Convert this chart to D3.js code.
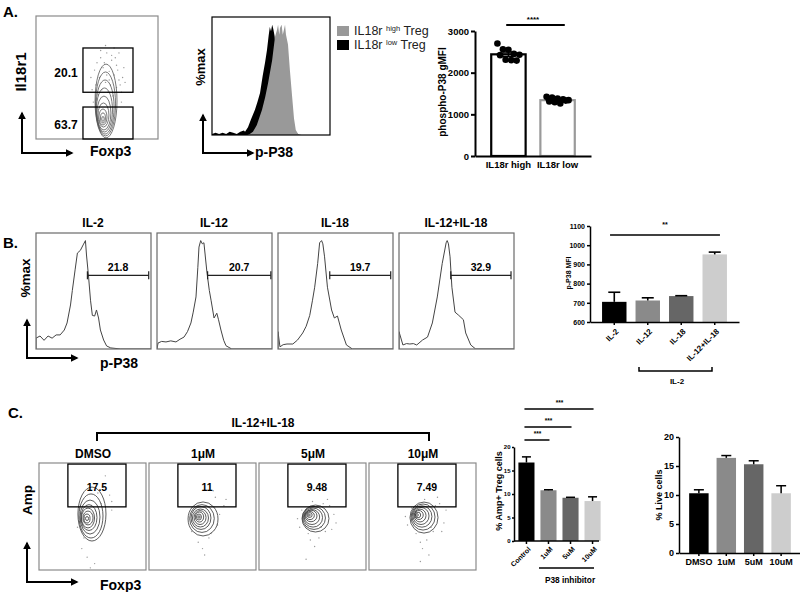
<!DOCTYPE html>
<html><head><meta charset="utf-8">
<script src="https://cdn.jsdelivr.net/npm/d3@7"></script>
<style>body{margin:0;background:#fff}svg{display:block}</style>
</head><body><svg id="chart" width="800" height="592"></svg>
<script>
// ---------------- DATA ----------------
// Panel A – bar chart
const aCategories = ["IL18r high", "IL18r low"];
const aMeans = [2440, 1340];
const aSem = [55, 25];
const aDotsHigh = [2700, 2560, 2550, 2450, 2430, 2420, 2310, 2300, 2290];
const aDotsLow = [1420, 1400, 1380, 1360, 1340, 1310, 1290, 1260, 1330];
const aTicks = [0, 1000, 2000, 3000];
// Panel A – histogram (channel %, %max)
const aHistLow = [[0,1],[3,2],[6,1],[9,2],[12,1],[15,3],[18,2],[21,1],[24,3],[27,4],[28,3],[30.5,7],[33,14],[36.4,23],[38.5,30],[40.7,38],[43,54],[45,66],[46.6,77],[48,90],[49,98],[50,94],[51,100],[52,96],[53,90],[55,70],[58,45],[62,25],[66,10],[70,3],[74,0],[100,0]];
const aHistHigh = [[0,0],[30,0],[32,1],[34.7,3],[38,9],[42.4,23],[45,34],[47.5,47],[51,68],[53.4,89],[55,95],[56,100],[57,91],[57.6,97],[59,100],[60,91],[61.9,100],[62.7,91],[64.4,82],[66,59],[67.8,36],[69.5,15],[71,4.5],[73,1],[76,0],[100,0]];
const aLegend = ["IL18r ", "high", " Treg", "low"];
// Panel A – contour plot (cx, cy, rx, ry in channel %)
const aContours = [[57.4,30.9,9,30],[57,28.5,8.2,26],[56.6,26,7.4,22],[56.1,23.6,6.6,17.9],[55.7,21.1,5.7,13.8],[55.3,19.5,4.5,9.8],[54.9,17.9,3.3,6.5],[54.9,17.1,2,4.1],[54.9,16.3,1,2]];
const aScatter = [[50,62],[53,66],[58,70],[62,64],[66,60],[60,55],[55,58],[64,52],[68,48],[52,50],[57,46],[61,44],[66,42],[70,38],[49,44],[54,40],[59,38],[63,35],[67,56],[71,50],[56,62],[62,68],[48,56],[65,66],[58,52],[51,36],[69,44],[60,48],[53,72],[46,40],[72,58],[64,74],[57,76],[70,30],[47,30],[73,46],[45,50],[68,70]];
const aGateHigh = [38.5, 38, 79.5, 74];
const aGateLow = [38.5, 0, 79.5, 26];
const aGatePct = ["20.1", "63.7"];

// Panel B – histograms
const bTitles = ["IL-2", "IL-12", "IL-18", "IL-12+IL-18"];
const bHists = [
  [[0,0],[0,10],[3.5,12],[7,8],[10.5,12],[14,10],[17.5,13],[21,13],[24.6,17.5],[27,24],[30,40.6],[31.6,54],[34,73],[36,88.5],[38.6,91],[41,96],[43,100],[43.9,86.7],[45.6,68],[47.4,45],[49,31],[51,30.4],[52.6,36],[54.4,28.6],[56,17.5],[58.8,8.3],[61.4,2.8],[65,1],[73.7,0],[100,0]],
  [[0,0],[0.9,5.5],[4,7],[7.8,6.5],[12,7.5],[16.5,6.5],[20,9],[23.5,11],[26.5,16],[29.5,24],[31.5,34],[33.9,48],[35.5,75],[36.5,94],[38,100],[39.4,97],[40.8,98],[43.5,70],[45.5,54],[47,45],[49.6,28.6],[52,33],[53.5,27],[55.6,17.5],[58,8],[60,3],[65,0],[100,0]],
  [[0,0],[0,16],[1.7,2],[4.5,4],[7.8,4.6],[12.9,4.6],[17,8.3],[21.5,14.8],[24.5,21],[27.6,31],[30,45],[31.9,57],[34.5,79],[36.2,98],[37.9,100],[39,97],[40.5,85],[43,57],[46.6,36],[49,28.6],[51.7,30.4],[55,17.5],[59.5,3.7],[64.7,0],[100,0]],
  [[0,0],[0,16],[3.4,3.7],[6.5,5],[9.4,4.6],[12.5,5],[15.4,3.7],[20.5,8.3],[24.8,11],[29,24],[33.3,48],[37.6,79],[41,98],[41.9,100],[43,97],[44.4,85],[46,57],[48.7,34],[52,31],[56,27],[58,14.8],[62.4,3.7],[66.7,0],[100,0]]
];
const bGateStart = [44.7, 44, 45, 45];
const bGateEnd = [98, 99, 98, 97.4];
const bGatePct = ["21.8", "20.7", "19.7", "32.9"];
// Panel B – bar chart
const bCategories = ["IL-2", "IL-12", "IL-18", "IL-12+IL-18"];
const bValues = [705, 712, 735, 952];
const bErrors = [50, 14, 2, 12];
const bTicks = [600, 700, 800, 900, 1000, 1100];

// Panel C – contour plots
const cTitles = ["DMSO", "1\u03bcM", "5\u03bcM", "10\u03bcM"];
const cGatePct = ["17.5", "11", "9.48", "7.49"];
const cGate = [27, 59, 81.3, 99];
const cContours = [
  [[49.5,52.3,13.1,25.2],[48.6,50.5,11.2,20.6],[47.7,49.5,9.3,15.9],[46.7,49,7.5,12.1],[45.8,48.6,6.1,9.3],[45.8,48.6,4.7,6.5],[44.9,48.1,2.8,4.2],[44.9,48.1,1.4,1.9]],
  [[50.5,47.7,14,15.9],[49.5,48.1,11.5,13],[48.6,48.6,9.3,10.7],[48.1,48.6,7.5,8.4],[47.7,49,5.6,6.5],[47.2,49.5,3.9,4.7],[46.7,49.5,2.3,2.8],[46.7,49.5,1,1.2]],
  [[52.8,48.1,12.6,12.6],[51.4,48.6,10.7,10.7],[50.5,49,8.9,8.9],[49.5,49.5,7.2,7],[48.6,50.5,5.6,5.4],[47.7,50.9,4,3.8],[47.2,51.4,2.5,2.3],[46.7,51.4,1.2,1]],
  [[51.4,49,13.1,14.5],[50.5,49.5,11.2,12.2],[49.5,50,9.3,10],[48.6,50.5,7.5,8],[47.7,50.9,5.6,6],[46.7,51.4,4,4.2],[45.8,51.4,2.5,2.6],[44.9,51.4,1.2,1.2]]
];
const cScatter = [
  [[60,78],[66,70],[58,62],[68,56],[40,20],[45,12],[52,6],[42,30],[36,40],[68,64],[62,88],[48,2],[55,72],[38,58]],
  [[62,68],[70,60],[66,52],[58,34],[50,20],[46,26],[56,30],[64,42],[52,14],[40,36],[72,66],[60,74]],
  [[66,60],[70,52],[62,36],[56,30],[48,28],[40,56],[36,48],[64,66],[52,22],[44,10],[58,40],[72,44],[50,64],[68,38],[38,40],[60,62],[46,34]],
  [[66,62],[72,56],[60,36],[54,28],[48,26],[40,58],[34,50],[64,68],[50,20],[48,8],[58,40],[70,44],[52,66],[68,36],[36,42],[62,60],[44,34],[56,14]]
];
// Panel C – bar charts
const c1Categories = ["Control", "1uM", "5uM", "10uM"];
const c1Values = [16.7, 10.8, 9.2, 8.5];
const c1Errors = [1.2, 0.1, 0.1, 0.9];
const c2Categories = ["DMSO", "1uM", "5uM", "10uM"];
const c2Values = [10.3, 16.4, 15.3, 10.3];
const c2Errors = [0.6, 0.4, 0.6, 1.3];
const cTicks = [0, 5, 10, 15, 20];

// ---------------- STYLE ----------------
const FONT = '"Liberation Sans", Arial, Helvetica, sans-serif';
const barColors = ["#000000", "#8a8a8a", "#666666", "#cdcdcd"];
const fmt = d3.format("d");

const svg = d3.select("#chart").attr("font-family", FONT);
const defs = svg.append("defs");
defs.append("marker").attr("id", "ah").attr("viewBox", "0 0 10 10")
  .attr("refX", 8).attr("refY", 5).attr("markerWidth", 4).attr("markerHeight", 4)
  .attr("orient", "auto").append("path").attr("d", "M0,0L10,5L0,10z").attr("fill", "#000");

function label(x, y, s, size, o = {}) {
  const t = svg.append("text").attr("x", x).attr("y", y).text(s)
    .attr("font-size", size).attr("font-weight", o.weight || "bold")
    .attr("fill", o.fill || "#000").attr("text-anchor", o.anchor || "start");
  if (o.rotate) t.attr("transform", `rotate(${o.rotate},${x},${y})`).attr("dominant-baseline", "central");
  return t;
}
function arrows(x0, y0, yTop, xRight) {
  svg.append("line").attr("x1", x0).attr("y1", y0 + 1).attr("x2", x0).attr("y2", yTop)
    .attr("stroke", "#000").attr("stroke-width", 2).attr("marker-end", "url(#ah)");
  svg.append("line").attr("x1", x0 - 1).attr("y1", y0).attr("x2", xRight).attr("y2", y0)
    .attr("stroke", "#000").attr("stroke-width", 2).attr("marker-end", "url(#ah)");
}
let clipN = 0;
function frame(x, y, w, h, yMax, color) {
  const xs = d3.scaleLinear([0, 100], [x, x + w]);
  const ys = d3.scaleLinear([0, yMax], [y + h, y]);
  const id = "clip" + (clipN++);
  defs.append("clipPath").attr("id", id).append("rect").attr("x", x).attr("y", y).attr("width", w).attr("height", h);
  const g = svg.append("g");
  const inner = g.append("g").attr("clip-path", `url(#${id})`);
  g.append("rect").attr("x", x).attr("y", y).attr("width", w).attr("height", h)
    .attr("fill", "none").attr("stroke", color).attr("stroke-width", 1.2);
  return { xs, ys, g, inner };
}
function drawContours(f, levels, scatter, stroke) {
  f.inner.selectAll("circle.sc").data(scatter).join("circle").attr("class", "sc")
    .attr("cx", d => f.xs(d[0])).attr("cy", d => f.ys(d[1])).attr("r", 0.7).attr("fill", "#999");
  f.inner.selectAll("ellipse").data(levels).join("ellipse")
    .attr("cx", d => f.xs(d[0])).attr("cy", d => f.ys(d[1]))
    .attr("rx", d => f.xs(d[2]) - f.xs(0)).attr("ry", d => f.ys(0) - f.ys(d[3]))
    .attr("fill", "none").attr("stroke", stroke).attr("stroke-width", 0.8);
}
function gateRect(f, gate) {
  f.g.append("rect").attr("x", f.xs(gate[0])).attr("y", f.ys(gate[3]))
    .attr("width", f.xs(gate[2]) - f.xs(gate[0])).attr("height", f.ys(gate[1]) - f.ys(gate[3]))
    .attr("fill", "none").attr("stroke", "#000").attr("stroke-width", 1.3);
}
function styleAxis(g, size, width) {
  g.attr("font-family", FONT).attr("font-size", size).attr("font-weight", "bold").attr("fill", "#000");
  g.selectAll("text").attr("fill", "#000");
  g.selectAll("path,line").attr("stroke", "#000").attr("stroke-width", width);
}
function errorBars(g, x, y, cats, vals, errs, capW, width) {
  cats.forEach((c, i) => {
    const cx = x(c) + x.bandwidth() / 2;
    g.append("line").attr("x1", cx).attr("x2", cx).attr("y1", y(vals[i])).attr("y2", y(vals[i] + errs[i]))
      .attr("stroke", "#000").attr("stroke-width", width);
    g.append("line").attr("x1", cx - capW).attr("x2", cx + capW).attr("y1", y(vals[i] + errs[i])).attr("y2", y(vals[i] + errs[i]))
      .attr("stroke", "#000").attr("stroke-width", width);
  });
}

// ---------------- PANEL A ----------------
label(3, 17, "A.", 15);
const fa = frame(36, 16, 122, 123, 100, "#8a8a8a");
drawContours(fa, aContours, aScatter, "#555");
gateRect(fa, aGateHigh);
gateRect(fa, aGateLow);
label(66, 77, aGatePct[0], 12, { anchor: "middle" });
label(66, 129, aGatePct[1], 12, { anchor: "middle" });
label(20, 72, "Il18r1", 15, { anchor: "middle", rotate: -90 });
arrows(22, 153, 113, 72);
label(90, 156, "Foxp3", 14);

const fh = frame(212, 17, 118, 118, 107, "#000");
const areaA = d3.area().x(d => fh.xs(d[0])).y0(fh.ys(0)).y1(d => fh.ys(d[1]));
fh.inner.append("path").datum(aHistLow).attr("d", areaA).attr("fill", "#000");
fh.inner.append("path").datum(aHistHigh).attr("d", areaA).attr("fill", "#999");
label(200, 67, "%max", 13, { anchor: "middle", rotate: -90 });
arrows(203, 153, 115, 253);
label(255, 157, "p-P38", 14);
svg.append("rect").attr("x", 337).attr("y", 26).attr("width", 12).attr("height", 10).attr("fill", "#999");
svg.append("rect").attr("x", 337).attr("y", 40).attr("width", 12).attr("height", 10).attr("fill", "#000");
[aLegend[1], aLegend[3]].forEach((sup, i) => {
  const t = svg.append("text").attr("x", 354).attr("y", 35 + i * 14).attr("font-size", 12.5).attr("fill", "#222");
  t.append("tspan").text(aLegend[0]);
  t.append("tspan").text(sup).attr("font-size", 7.5).attr("dy", -4);
  t.append("tspan").text(aLegend[2]).attr("dy", 4);
});

const aY = d3.scaleLinear([0, 3000], [156, 31]);
const aX = d3.scaleBand(aCategories, [475, 591]).paddingInner(0.3).paddingOuter(0.33);
const gA = svg.append("g");
gA.selectAll("rect.bar").data(aCategories).join("rect").attr("class", "bar")
  .attr("x", d => aX(d)).attr("width", aX.bandwidth())
  .attr("y", (d, i) => aY(aMeans[i])).attr("height", (d, i) => aY(0) - aY(aMeans[i]))
  .attr("fill", "#fff").attr("stroke", (d, i) => i ? "#9a9a9a" : "#000").attr("stroke-width", 2.2);
[aDotsHigh, aDotsLow].forEach((dots, k) => {
  const cx = aX(aCategories[k]) + aX.bandwidth() / 2;
  gA.selectAll(null).data(dots).join("circle")
    .attr("cx", (d, i) => cx + ((i % 5) - 2) * 5.5 + (i >= 5 ? 2.7 : 0))
    .attr("cy", d => aY(d)).attr("r", 3.3).attr("fill", "#000");
});
aCategories.forEach((c, i) => {
  const cx = aX(c) + aX.bandwidth() / 2;
  gA.append("line").attr("x1", cx).attr("x2", cx).attr("y1", aY(aMeans[i] - aSem[i])).attr("y2", aY(aMeans[i] + aSem[i])).attr("stroke", "#000").attr("stroke-width", 1.5);
  [aMeans[i] - aSem[i], aMeans[i] + aSem[i], aMeans[i]].forEach((v, j) => {
    const w = j === 2 ? 12 : 6;
    gA.append("line").attr("x1", cx - w).attr("x2", cx + w).attr("y1", aY(v)).attr("y2", aY(v)).attr("stroke", "#000").attr("stroke-width", 1.5);
  });
});
const aYAxis = gA.append("g").attr("transform", "translate(475,0)")
  .call(d3.axisLeft(aY).tickValues(aTicks).tickFormat(fmt).tickSize(4).tickSizeOuter(0).tickPadding(2));
styleAxis(aYAxis, 9.5, 2);
const aXAxis = gA.append("g").attr("transform", "translate(0,156)")
  .call(d3.axisBottom(aX).tickSize(0).tickSizeOuter(0).tickPadding(5));
styleAxis(aXAxis, 9.5, 2);
label(442, 92, "phospho-P38 gMFI", 10, { anchor: "middle", rotate: -90 });
svg.append("line").attr("x1", aX(aCategories[0]) + 15).attr("x2", aX(aCategories[1]) + aX.bandwidth() - 10)
  .attr("y1", 25).attr("y2", 25).attr("stroke", "#000").attr("stroke-width", 2);
label(533, 22, "****", 8, { anchor: "middle" });

// ---------------- PANEL B ----------------
label(3, 248, "B.", 15);
const bLine = d3.line().curve(d3.curveLinear);
bTitles.forEach((t, i) => {
  const x0 = 36 + i * 121;
  const f = frame(x0, 233, 115, 116, 107, "#6a6a6a");
  f.inner.append("path").datum(bHists[i]).attr("d", bLine.x(d => f.xs(d[0])).y(d => f.ys(d[1])))
    .attr("fill", "none").attr("stroke", "#444").attr("stroke-width", 1);
  const gy = f.ys(68);
  f.g.append("line").attr("x1", f.xs(bGateStart[i])).attr("x2", f.xs(bGateEnd[i])).attr("y1", gy).attr("y2", gy).attr("stroke", "#222").attr("stroke-width", 1.2);
  [bGateStart[i], bGateEnd[i]].forEach(v => f.g.append("line").attr("x1", f.xs(v)).attr("x2", f.xs(v)).attr("y1", gy - 4).attr("y2", gy + 4).attr("stroke", "#222").attr("stroke-width", 1.2));
  label((f.xs(bGateStart[i]) + f.xs(bGateEnd[i])) / 2, gy - 4, bGatePct[i], 10.5, { anchor: "middle" });
  label(x0 + 57, 227, t, 12, { anchor: "middle" });
});
label(25, 278, "%max", 13.5, { anchor: "middle", rotate: -90 });
arrows(27, 358, 320, 77);
label(100, 368, "p-P38", 14);

const bY = d3.scaleLinear([600, 1100], [322, 226]);
const bX = d3.scaleBand(bCategories, [590, 739]).paddingInner(0.27).paddingOuter(0.36);
const gB = svg.append("g");
gB.selectAll("rect").data(bCategories).join("rect")
  .attr("x", d => bX(d)).attr("width", bX.bandwidth())
  .attr("y", (d, i) => bY(bValues[i])).attr("height", (d, i) => bY(600) - bY(bValues[i]))
  .attr("fill", (d, i) => barColors[i]);
errorBars(gB, bX, bY, bCategories, bValues, bErrors, 6, 1.6);
const bYAxis = gB.append("g").attr("transform", "translate(590,0)")
  .call(d3.axisLeft(bY).tickValues(bTicks).tickFormat(fmt).tickSize(3).tickSizeOuter(0).tickPadding(2));
styleAxis(bYAxis, 7, 1.5);
const bXAxis = gB.append("g").attr("transform", "translate(0,322)")
  .call(d3.axisBottom(bX).tickSize(3).tickSizeOuter(0));
styleAxis(bXAxis, 8, 1.5);
bXAxis.selectAll("text").attr("x", 0).attr("y", 0).attr("dy", "0.35em")
  .attr("transform", "translate(3,8) rotate(-45)").style("text-anchor", "end");
label(568, 273, "p-P38 MFI", 7, { anchor: "middle", rotate: -90 });
gB.append("line").attr("x1", bX("IL-2") + 8).attr("x2", bX("IL-12+IL-18") + bX.bandwidth() - 7).attr("y1", 235).attr("y2", 235).attr("stroke", "#000").attr("stroke-width", 1.5);
label(665, 227, "**", 7, { anchor: "middle" });
gB.append("path").attr("d", "M639,367V371H712V367").attr("fill", "none").attr("stroke", "#000").attr("stroke-width", 1.5);
label(677, 384, "IL-2", 8, { anchor: "middle" });

// ---------------- PANEL C ----------------
label(8, 418, "C.", 15);
svg.append("path").attr("d", "M97,441V433H429V441").attr("fill", "none").attr("stroke", "#000").attr("stroke-width", 2);
label(263, 427, "IL-12+IL-18", 12, { anchor: "middle" });
cTitles.forEach((t, i) => {
  const x0 = 39 + i * 110;
  const f = frame(x0, 463, 107, 107, 100, "#8a8a8a");
  drawContours(f, cContours[i], cScatter[i], "#333");
  gateRect(f, cGate);
  label((f.xs(cGate[0]) + f.xs(cGate[2])) / 2, 491, cGatePct[i], 10.5, { anchor: "middle" });
  label(x0 + 54, 458, t, 12, { anchor: "middle" });
});
label(27, 500, "Amp", 13.5, { anchor: "middle", rotate: -90 });
arrows(27, 582, 543, 77);
label(100, 590, "Foxp3", 14);

const c1Y = d3.scaleLinear([0, 20], [541, 447]);
const c1X = d3.scaleBand(c1Categories, [514, 605]).paddingInner(0.27).paddingOuter(0.2);
const gC1 = svg.append("g");
gC1.selectAll("rect").data(c1Categories).join("rect")
  .attr("x", d => c1X(d)).attr("width", c1X.bandwidth())
  .attr("y", (d, i) => c1Y(c1Values[i])).attr("height", (d, i) => c1Y(0) - c1Y(c1Values[i]))
  .attr("fill", (d, i) => barColors[i]);
errorBars(gC1, c1X, c1Y, c1Categories, c1Values, c1Errors, 4.5, 1.5);
const c1YAxis = gC1.append("g").attr("transform", "translate(514,0)")
  .call(d3.axisLeft(c1Y).tickValues(cTicks).tickFormat(fmt).tickSize(2).tickSizeOuter(0).tickPadding(1.5));
styleAxis(c1YAxis, 6, 1.5);
const c1XAxis = gC1.append("g").attr("transform", "translate(0,541)")
  .call(d3.axisBottom(c1X).tickSize(3).tickSizeOuter(0));
c1XAxis.select(".domain").attr("d", "M514,0H599");
styleAxis(c1XAxis, 7, 1.5);
c1XAxis.selectAll("text").attr("x", 0).attr("y", 0).attr("dy", "0.35em")
  .attr("transform", "translate(3,7) rotate(-45)").style("text-anchor", "end");
label(499, 491, "% Amp+ Treg cells", 9, { anchor: "middle", rotate: -90 });
const c1Center = c => c1X(c) + c1X.bandwidth() / 2;
[[1, 440], [2, 427], [3, 409]].forEach(([k, y]) => {
  gC1.append("line").attr("x1", c1Center("Control") - 2).attr("x2", c1Center(c1Categories[k]) + 1)
    .attr("y1", y).attr("y2", y).attr("stroke", "#000").attr("stroke-width", 1.5);
  label((c1Center("Control") + c1Center(c1Categories[k])) / 2, y - 4, "***", 6.5, { anchor: "middle" });
});
gC1.append("line").attr("x1", 539).attr("x2", 594).attr("y1", 568).attr("y2", 568).attr("stroke", "#000").attr("stroke-width", 1.5);
label(570, 583, "P38 inhibitor", 8.3, { anchor: "middle" });

const c2Y = d3.scaleLinear([0, 20], [553, 437]);
const c2X = d3.scaleBand(c2Categories, [679, 801]).paddingInner(0.29).paddingOuter(0.37);
const gC2 = svg.append("g");
gC2.selectAll("rect").data(c2Categories).join("rect")
  .attr("x", d => c2X(d)).attr("width", c2X.bandwidth())
  .attr("y", (d, i) => c2Y(c2Values[i])).attr("height", (d, i) => c2Y(0) - c2Y(c2Values[i]))
  .attr("fill", (d, i) => barColors[i]);
errorBars(gC2, c2X, c2Y, c2Categories, c2Values, c2Errors, 5, 1.5);
const c2YAxis = gC2.append("g").attr("transform", "translate(679,0)")
  .call(d3.axisLeft(c2Y).tickValues(cTicks).tickFormat(fmt).tickSize(3).tickSizeOuter(0).tickPadding(2));
styleAxis(c2YAxis, 9, 1.5);
const c2XAxis = gC2.append("g").attr("transform", "translate(0,553)")
  .call(d3.axisBottom(c2X).tickSize(3).tickSizeOuter(0).tickPadding(3));
styleAxis(c2XAxis, 9, 1.5);
label(659, 495, "% Live cells", 9, { anchor: "middle", rotate: -90 });
</script></body></html>
